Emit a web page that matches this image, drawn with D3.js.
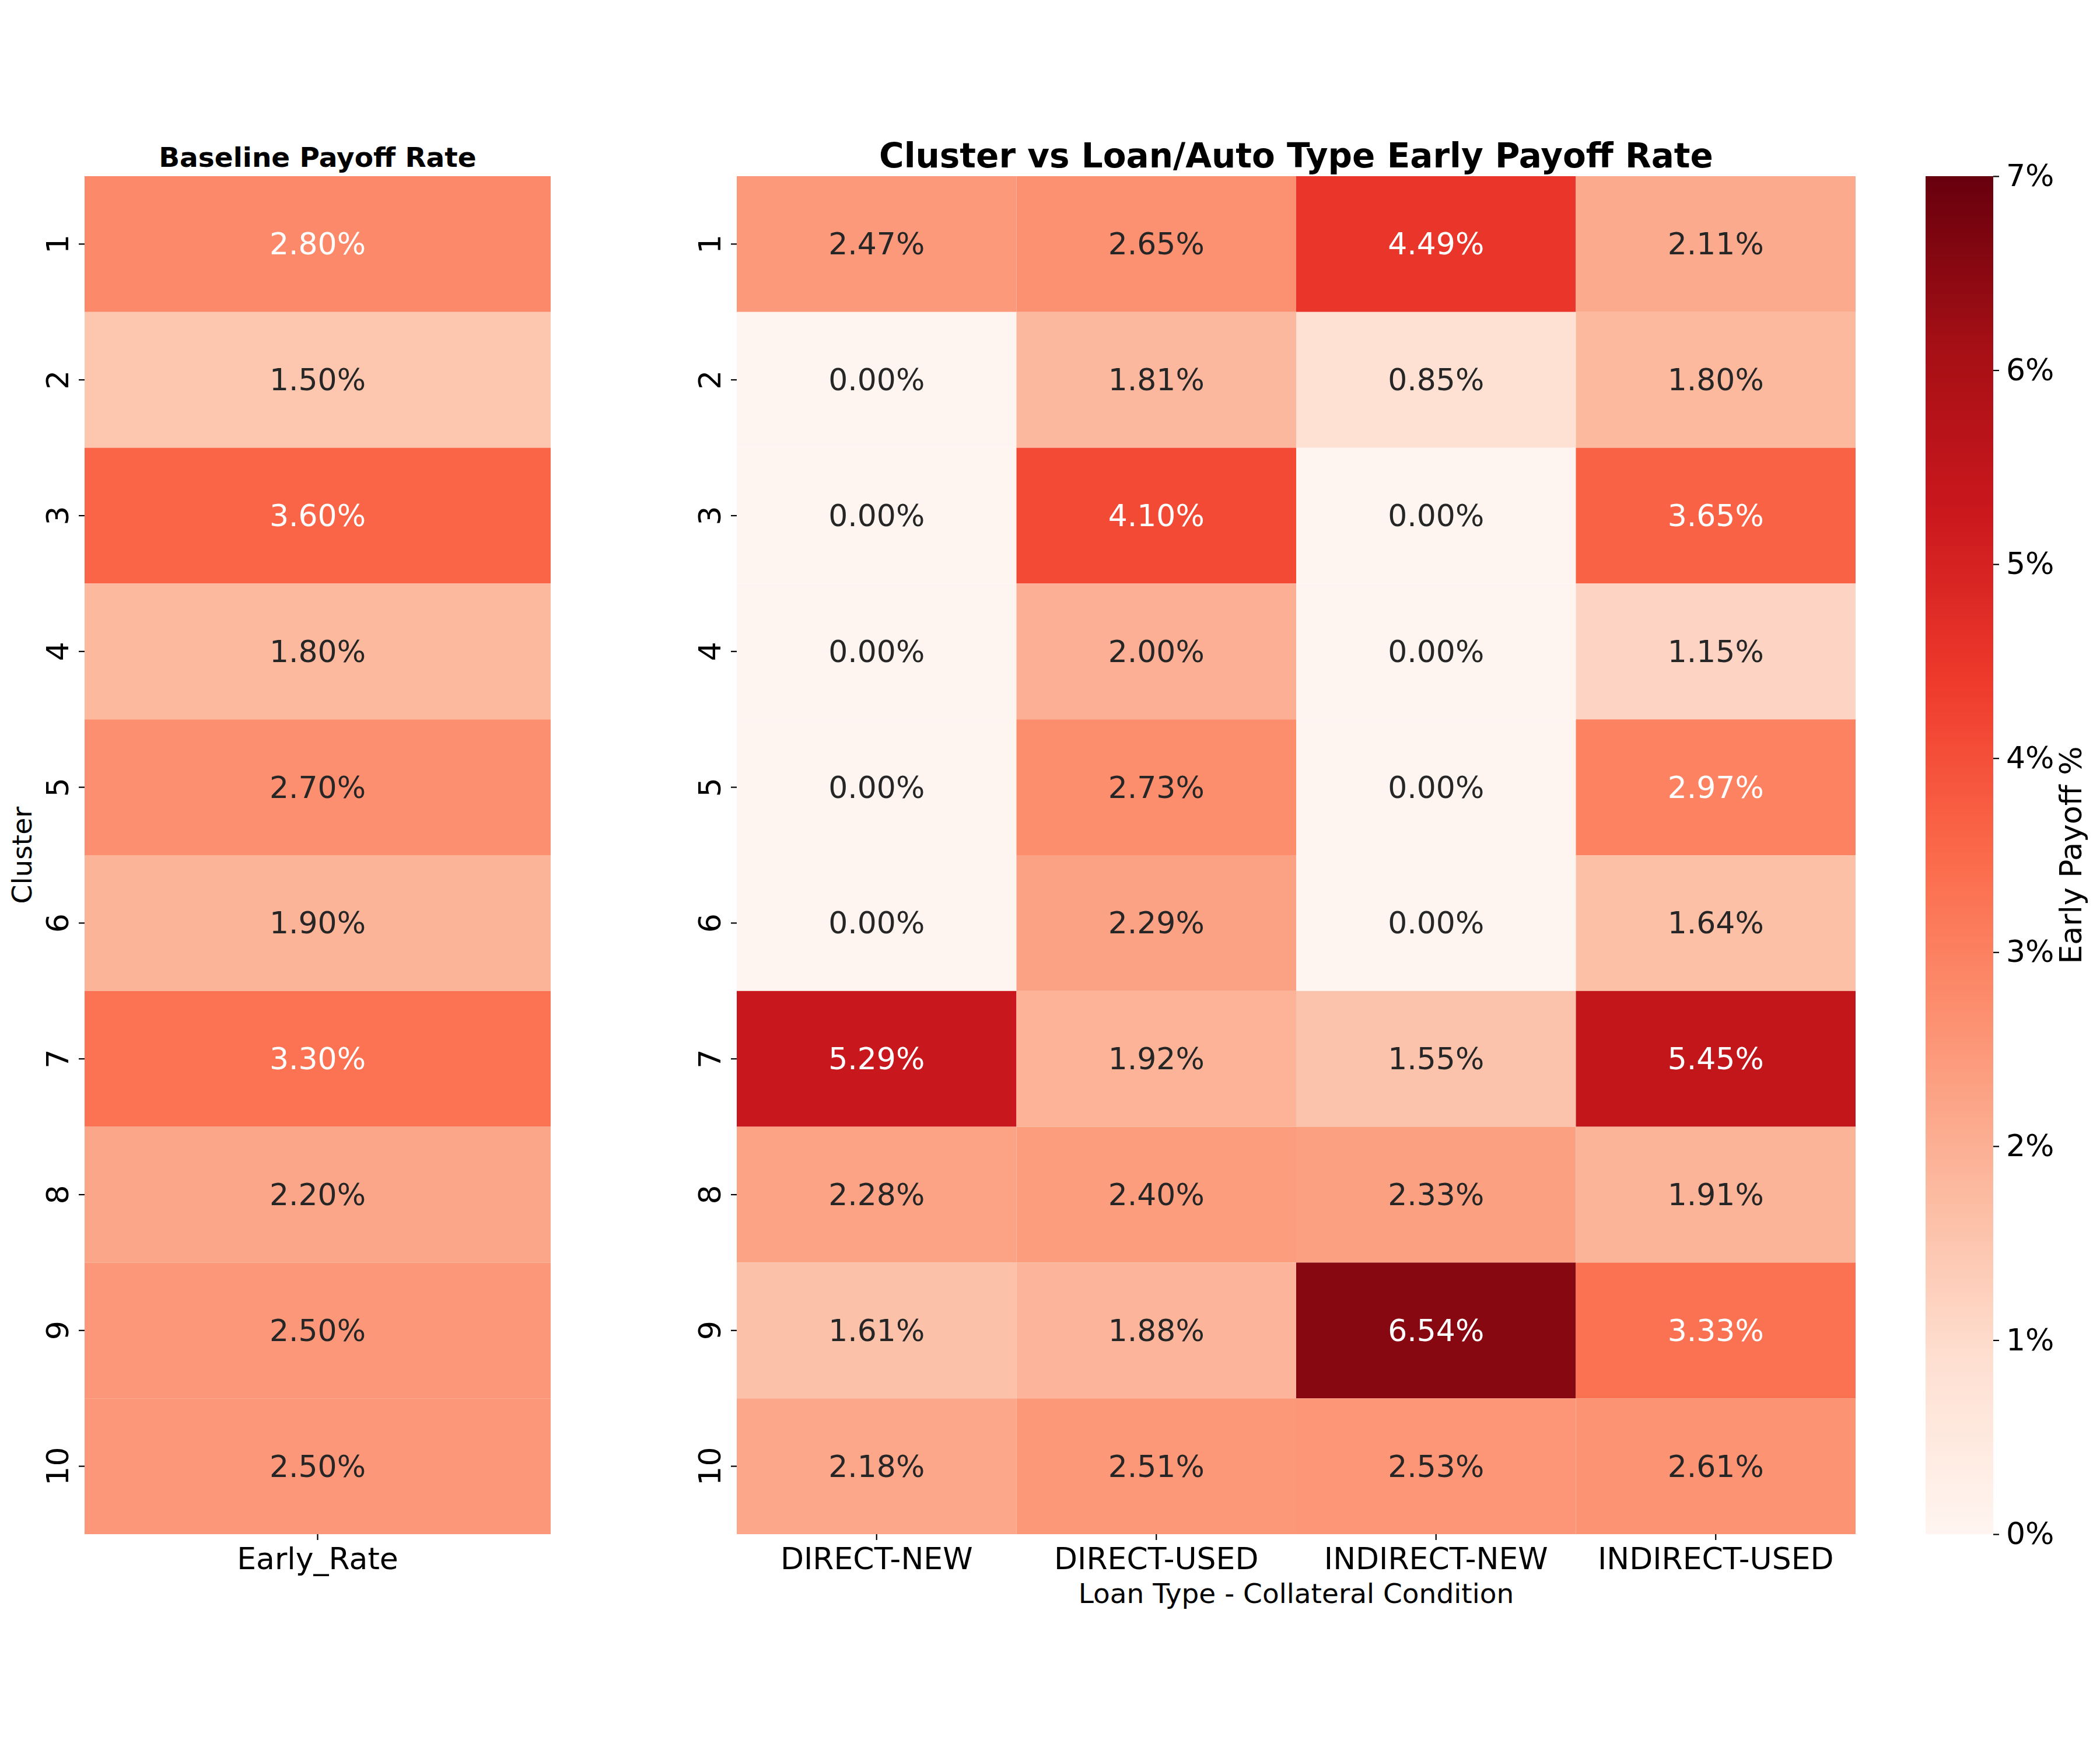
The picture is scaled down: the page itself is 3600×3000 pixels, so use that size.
<!DOCTYPE html>
<html>
<head>
<meta charset="utf-8">
<script src="https://cdn.jsdelivr.net/npm/d3@7"></script>
<style>
  html, body { margin: 0; padding: 0; background: #ffffff; }
  svg { display: block; font-family: "DejaVu Sans", sans-serif; }
</style>
</head>
<body>
<svg id="chart" width="3600" height="3000"></svg>
<script>
// ---- Data ----
const clusters = ["1","2","3","4","5","6","7","8","9","10"];
const baselineCategory = ["Early_Rate"];
const baselineRates = [2.80, 1.50, 3.60, 1.80, 2.70, 1.90, 3.30, 2.20, 2.50, 2.50];
const loanTypes = ["DIRECT-NEW", "DIRECT-USED", "INDIRECT-NEW", "INDIRECT-USED"];
const directNew    = [2.47, 0.00, 0.00, 0.00, 0.00, 0.00, 5.29, 2.28, 1.61, 2.18];
const directUsed   = [2.65, 1.81, 4.10, 2.00, 2.73, 2.29, 1.92, 2.40, 1.88, 2.51];
const indirectNew  = [4.49, 0.85, 0.00, 0.00, 0.00, 0.00, 1.55, 2.33, 6.54, 2.53];
const indirectUsed = [2.11, 1.80, 3.65, 1.15, 2.97, 1.64, 5.45, 1.91, 3.33, 2.61];
const colorbarTicks = [0, 1, 2, 3, 4, 5, 6, 7];

const seriesByType = [directNew, directUsed, indirectNew, indirectUsed];

// ---- Colormap (matplotlib "Reds", vmin 0, vmax 7) ----
const redsColors = ["#fff5f0","#fee0d2","#fcbba1","#fc9272","#fb6a4a","#ef3b2c","#cb181d","#a50f15","#67000d"];
const vmin = 0, vmax = 7;
const color = d3.scaleLinear()
  .domain(redsColors.map((c, i) => vmin + (vmax - vmin) * i / (redsColors.length - 1)))
  .range(redsColors)
  .interpolate(d3.interpolateRgb)
  .clamp(true);

function relLum(c) {
  const rgb = d3.rgb(c);
  const f = v => { v = v / 255; return v <= 0.03928 ? v / 12.92 : Math.pow((v + 0.055) / 1.055, 2.4); };
  return 0.2126 * f(rgb.r) + 0.7152 * f(rgb.g) + 0.0722 * f(rgb.b);
}
const textColor = v => relLum(color(v)) > 0.408 ? "#262626" : "#ffffff";

const svg = d3.select("#chart");

// ---- Geometry ----
const plotTop = 302, plotBottom = 2630;
const leftX0 = 145, leftX1 = 944;
const mainX0 = 1263, mainX1 = 3181;
const cbX0 = 3301, cbX1 = 3417;

const y = d3.scaleBand().domain(clusters).range([plotTop, plotBottom]).padding(0);
const xLeft = d3.scaleBand().domain(baselineCategory).range([leftX0, leftX1]).padding(0);
const xMain = d3.scaleBand().domain(loanTypes).range([mainX0, mainX1]).padding(0);

const tickFont = 52, annotFont = 52, labelFont = 47;

function styleAxis(g) {
  g.select(".domain").remove();
  g.selectAll(".tick line").attr("stroke", "#000").attr("stroke-width", 2.2);
  g.selectAll(".tick text").attr("fill", "#000").style("font-size", tickFont + "px")
    .style("font-family", "DejaVu Sans");
}

function drawYAxis(x0) {
  const g = svg.append("g").attr("transform", `translate(${x0},0)`)
    .call(d3.axisLeft(y).tickSize(10).tickPadding(10));
  styleAxis(g);
  g.selectAll(".tick text")
    .attr("x", 0).attr("y", 0)
    .attr("text-anchor", "middle")
    .attr("dy", null)
    .attr("transform", "translate(-28,0) rotate(-90)");
  return g;
}

function drawXAxis(xs) {
  const g = svg.append("g").attr("transform", `translate(0,${plotBottom})`)
    .call(d3.axisBottom(xs).tickSize(10).tickPadding(10));
  styleAxis(g);
  g.selectAll(".tick text").attr("dy", null).attr("y", 60);
  return g;
}

// ---- Left heatmap ----
const leftCells = clusters.map((c, i) => ({ row: c, col: baselineCategory[0], v: baselineRates[i] }));
svg.append("g").selectAll("rect").data(leftCells).join("rect")
  .attr("x", d => xLeft(d.col)).attr("y", d => y(d.row))
  .attr("width", xLeft.bandwidth()).attr("height", y.bandwidth())
  .attr("fill", d => color(d.v));
svg.append("g").selectAll("text").data(leftCells).join("text")
  .attr("x", d => xLeft(d.col) + xLeft.bandwidth() / 2)
  .attr("y", d => y(d.row) + y.bandwidth() / 2)
  .attr("text-anchor", "middle").attr("dominant-baseline", "central")
  .style("font-size", annotFont + "px")
  .attr("fill", d => textColor(d.v))
  .text(d => d.v.toFixed(2) + "%");

drawYAxis(leftX0);
drawXAxis(xLeft);

svg.append("text")
  .attr("x", (leftX0 + leftX1) / 2).attr("y", 286)
  .attr("text-anchor", "middle").style("font-size", "47px").style("font-weight", "bold")
  .text("Baseline Payoff Rate");

svg.append("text")
  .attr("transform", `translate(54,${(plotTop + plotBottom) / 2}) rotate(-90)`)
  .attr("text-anchor", "middle").style("font-size", labelFont + "px")
  .text("Cluster");

// ---- Main heatmap ----
const mainCells = [];
clusters.forEach((c, i) => loanTypes.forEach((t, j) => mainCells.push({ row: c, col: t, v: seriesByType[j][i] })));
svg.append("g").selectAll("rect").data(mainCells).join("rect")
  .attr("x", d => xMain(d.col)).attr("y", d => y(d.row))
  .attr("width", xMain.bandwidth()).attr("height", y.bandwidth())
  .attr("fill", d => color(d.v));
svg.append("g").selectAll("text").data(mainCells).join("text")
  .attr("x", d => xMain(d.col) + xMain.bandwidth() / 2)
  .attr("y", d => y(d.row) + y.bandwidth() / 2)
  .attr("text-anchor", "middle").attr("dominant-baseline", "central")
  .style("font-size", annotFont + "px")
  .attr("fill", d => textColor(d.v))
  .text(d => d.v.toFixed(2) + "%");

drawYAxis(mainX0);
drawXAxis(xMain);

svg.append("text")
  .attr("x", (mainX0 + mainX1) / 2).attr("y", 287)
  .attr("text-anchor", "middle").style("font-size", "58px").style("font-weight", "bold")
  .text("Cluster vs Loan/Auto Type Early Payoff Rate");

svg.append("text")
  .attr("x", (mainX0 + mainX1) / 2).attr("y", 2748)
  .attr("text-anchor", "middle").style("font-size", labelFont + "px")
  .text("Loan Type - Collateral Condition");

// ---- Colorbar ----
const defs = svg.append("defs");
const grad = defs.append("linearGradient").attr("id", "cbgrad")
  .attr("x1", "0").attr("y1", "1").attr("x2", "0").attr("y2", "0");
redsColors.forEach((c, i) => grad.append("stop")
  .attr("offset", (i / (redsColors.length - 1) * 100) + "%").attr("stop-color", c));

const cbScale = d3.scaleLinear().domain([vmin, vmax]).range([plotBottom, plotTop]);
svg.append("rect")
  .attr("x", cbX0).attr("y", cbScale(vmax))
  .attr("width", cbX1 - cbX0).attr("height", cbScale(vmin) - cbScale(vmax))
  .attr("fill", "url(#cbgrad)");

const cbAxis = svg.append("g").attr("transform", `translate(${cbX1},0)`)
  .call(d3.axisRight(cbScale).tickValues(colorbarTicks).tickSize(10).tickPadding(12)
    .tickFormat(d => d + "%"));
styleAxis(cbAxis);

svg.append("text")
  .attr("transform", `translate(3568,${(plotTop + plotBottom) / 2}) rotate(-90)`)
  .attr("text-anchor", "middle").style("font-size", "52px")
  .text("Early Payoff %");
</script>
</body>
</html>
